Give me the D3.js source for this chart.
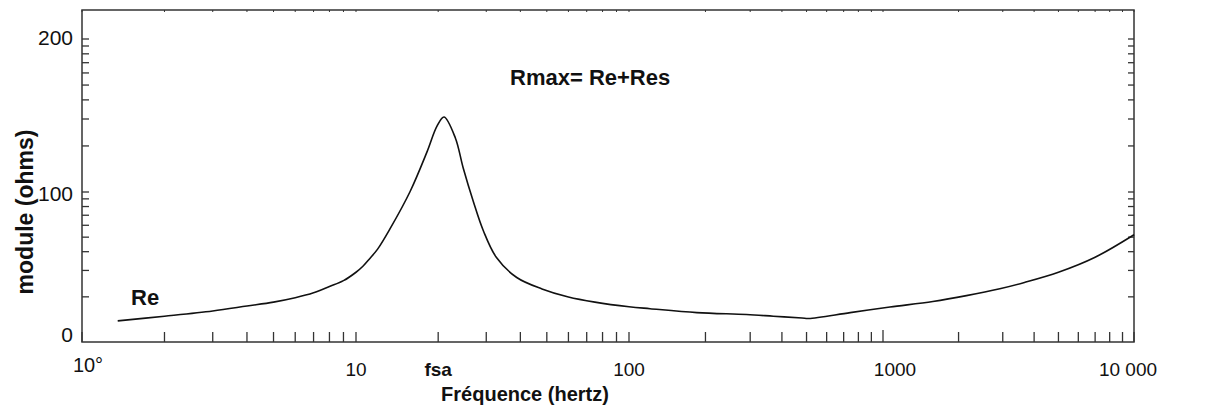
<!DOCTYPE html>
<html>
<head>
<meta charset="utf-8">
<script src="https://cdn.jsdelivr.net/npm/d3@7"></script>
<style>
  body { margin: 0; background: #fff; }
  text { font-family: "Liberation Sans", Arial, sans-serif; fill: #111; }
</style>
</head>
<body>
<div id="chart"></div>
<script>
// Impedance modulus vs frequency (log axis)
const freq = [1.35, 2, 3, 4, 5, 6, 7, 8, 9, 10, 10.6, 11.2, 12, 13.3, 15.8, 18.2, 19.8, 21,
    23.1, 24.7, 26.9, 29.3, 32.7, 38.8, 48, 60, 75, 100, 121, 185, 290, 370, 480, 510,
    743, 1066, 1580, 2150, 2920, 3660, 5000, 7000, 10000];
const modulus = [14.1, 17.2, 20.7, 24, 26.6, 29.5, 32.8, 37, 40.9, 46.5, 50.5, 55.4, 61.9, 75.2, 100.5, 126.2, 143, 149,
    135.5, 115.7, 93.7, 74, 56.3, 43, 35.4, 30, 26.6, 23.5, 22.2, 19.6, 18.3, 17.2, 16, 15.7,
    19.6, 23.3, 27, 30.9, 35.5, 39.7, 46.5, 56.5, 71.5];

const decades = [1, 10, 100, 1000, 10000];
const xTickLabels = [
    { f: 1, label: "10°" },
    { f: 10, label: "10" },
    { f: 20, label: "fsa" },
    { f: 100, label: "100" },
    { f: 1000, label: "1000" },
    { f: 10000, label: "10 000" }
];
const yTickValues = [0, 100, 200];

const width = 1216, height = 414;
const frame = { left: 82, right: 1134, top: 10, bottom: 342 };

const svg = d3.select("#chart")
    .append("svg")
    .attr("width", width)
    .attr("height", height);

// Scales (decades in the original are not quite even)
const x = d3.scaleLog()
    .domain(decades)
    .range([82, 356, 629, 883, 1134]);

const y = d3.scaleLinear()
    .domain([0, 100, 200, 219])
    .range([frame.bottom, 192, 39, frame.top]);

// Minor ticks
const xMinor = [];
decades.slice(0, -1).forEach(d => {
    for (let k = 1; k <= 9; k++) xMinor.push(k * d);
});
xMinor.push(10000);

const yMinor = [];
[0, 100].forEach(b => {
    for (let k = 2; k <= 9; k++) yMinor.push(b + 100 * Math.log10(k));
});

const ink = "#333";

// Frame
svg.append("rect")
    .attr("x", frame.left)
    .attr("y", frame.top)
    .attr("width", frame.right - frame.left)
    .attr("height", frame.bottom - frame.top)
    .attr("fill", "none")
    .attr("stroke", ink)
    .attr("stroke-width", 1.5);

// Bottom ticks
svg.append("g")
    .selectAll("line")
    .data(xMinor)
    .join("line")
    .attr("x1", d => x(d))
    .attr("x2", d => x(d))
    .attr("y1", frame.bottom)
    .attr("y2", d => frame.bottom - (d === 1000 ? 12 : 10))
    .attr("stroke", ink)
    .attr("stroke-width", 1.3);

// Top ticks
svg.append("g")
    .selectAll("line")
    .data(xMinor)
    .join("line")
    .attr("x1", d => x(d))
    .attr("x2", d => x(d))
    .attr("y1", frame.top)
    .attr("y2", frame.top + 2)
    .attr("stroke", ink)
    .attr("stroke-width", 1);

// Left and right ticks
const yTicks = yMinor.concat([100, 200]);
[[frame.left, 7], [frame.right, -6]].forEach(([x0, len]) => {
    svg.append("g")
        .selectAll("line")
        .data(yTicks)
        .join("line")
        .attr("x1", x0)
        .attr("x2", x0 + len)
        .attr("y1", d => y(d))
        .attr("y2", d => y(d))
        .attr("stroke", ink)
        .attr("stroke-width", 1.3);
});

// Tick labels
svg.append("g")
    .selectAll("text")
    .data(yTickValues)
    .join("text")
    .attr("x", 73)
    .attr("y", d => y(d) + (d === 0 ? 0 : d === 100 ? 9 : 6))
    .attr("text-anchor", "end")
    .attr("font-size", "21px")
    .text(d => d);

svg.append("g")
    .selectAll("text")
    .data(xTickLabels)
    .join("text")
    .attr("x", d => x(d.f) + (d.f === 1 ? 6 : d.f === 1000 ? 12 : d.f === 10000 ? -6 : 0))
    .attr("y", d => d.f === 1 ? 372 : 376)
    .attr("text-anchor", "middle")
    .attr("font-size", d => d.f === 1 ? "20px" : "19px")
    .attr("font-weight", d => d.label === "fsa" ? "bold" : "normal")
    .text(d => d.label);

// Axis titles
svg.append("text")
    .attr("x", 525)
    .attr("y", 401)
    .attr("text-anchor", "middle")
    .attr("font-size", "20px")
    .attr("font-weight", "bold")
    .text("Fréquence (hertz)");

svg.append("text")
    .attr("transform", "translate(33,212) rotate(-90)")
    .attr("text-anchor", "middle")
    .attr("font-size", "23px")
    .attr("font-weight", "bold")
    .text("module (ohms)");

// Annotations
svg.append("text")
    .attr("x", 510)
    .attr("y", 85)
    .attr("font-size", "22px")
    .attr("font-weight", "bold")
    .text("Rmax= Re+Res");

svg.append("text")
    .attr("x", 131)
    .attr("y", 305)
    .attr("font-size", "22px")
    .attr("font-weight", "bold")
    .text("Re");

// Curve
const line = d3.line()
    .x((d, i) => x(freq[i]))
    .y(d => y(d))
    .curve(d3.curveCatmullRom.alpha(0.5));

svg.append("path")
    .datum(modulus)
    .attr("d", line)
    .attr("fill", "none")
    .attr("stroke", "#111")
    .attr("stroke-width", 1.6);
</script>
</body>
</html>
